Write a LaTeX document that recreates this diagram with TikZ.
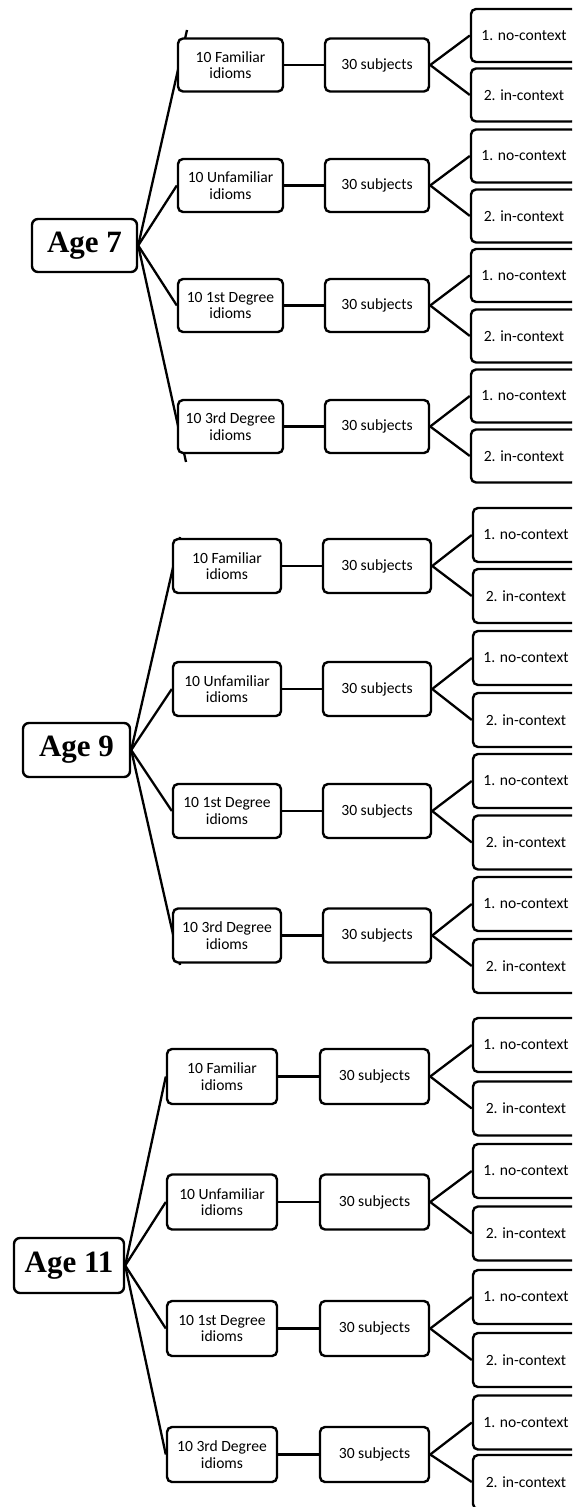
\documentclass[tikz,border=0pt]{standalone}
\usepackage{fontspec}
\setmainfont{Carlito}
\newfontfamily\agefont{Liberation Serif}
\usetikzlibrary{backgrounds}
\tikzset{
  box/.style={draw, line width=1.2pt, rounded corners=2.5pt, fill=white, inner sep=0pt,
    align=center, font=\fontsize{7.8}{8.2}\selectfont},
  agebox/.style={box, rounded corners=3pt, font=\agefont\bfseries\fontsize{15.5}{18}\selectfont},
  link/.style={line width=1.15pt},
  thinlink/.style={line width=0.6pt}
}
\newcommand\idtext[1]{\ifcase#1\or 10 Familiar\\idioms\or 10 Unfamiliar\\idioms\or 10 1st Degree\\idioms\or 10 3rd Degree\\idioms\fi}
\begin{document}
\begin{tikzpicture}[x=0.5pt,y=-0.5pt]
\useasboundingbox (0,0) rectangle (572,1507);
\clip (0,0) rectangle (572,1507);
% ---------------- Age 7
\node[agebox, minimum width=52.5pt, minimum height=26.5pt] (age7) at (84.5,245.5) {Age 7};
\coordinate (a7top) at (187,30);
\coordinate (a7bot) at (186,462);
\foreach \i/\y/\a/\b in {1/65/35.5/95, 2/185.5/156/216, 3/305.5/275.5/336, 4/426.5/396/456}{
  \node[box, minimum width=52.5pt, minimum height=26.5pt] (g7i\i) at (230.5,\y) {\idtext{\i}};
  \node[box, minimum width=52pt, minimum height=26.5pt] (g7s\i) at (377,\y) {30 subjects};
  \node[box, minimum width=53pt, minimum height=26.5pt] (g7n\i) at (524,\a) {1. no-context};
  \node[box, minimum width=53pt, minimum height=26.5pt] (g7c\i) at (524,\b) {2. in-context};
}
% ---------------- Age 9
\node[agebox, minimum width=53.5pt, minimum height=27pt] (age9) at (76.5,750) {Age 9};
\coordinate (a9top) at (180,537);
\coordinate (a9bot) at (180,965);
\foreach \i/\y/\a/\b in {1/566/535/596, 2/689/658/720, 3/811/781/842.5, 4/935.5/904/966}{
  \node[box, minimum width=54pt, minimum height=27pt] (g9i\i) at (227,\y) {\idtext{\i}};
  \node[box, minimum width=54pt, minimum height=27pt] (g9s\i) at (377,\y) {30 subjects};
  \node[box, minimum width=53pt, minimum height=27pt] (g9n\i) at (526,\a) {1. no-context};
  \node[box, minimum width=53pt, minimum height=27pt] (g9c\i) at (526,\b) {2. in-context};
}
% ---------------- Age 11
\node[agebox, minimum width=55pt, minimum height=27.5pt] (age11) at (69,1265.5) {Age 11};
\foreach \i/\y/\a/\b in {1/1076.5/1045/1108.5, 2/1202/1171/1233.5, 3/1328.5/1297/1360, 4/1454.5/1422.5/1482}{
  \node[box, minimum width=55pt, minimum height=27.5pt] (g11i\i) at (222,\y) {\idtext{\i}};
  \node[box, minimum width=54.5pt, minimum height=27.5pt] (g11s\i) at (374.5,\y) {30 subjects};
  \node[box, minimum width=53pt, minimum height=27pt] (g11n\i) at (526,\a) {1. no-context};
  \node[box, minimum width=53pt, minimum height=27pt] (g11c\i) at (526,\b) {2. in-context};
}
% ---------------- connectors
\begin{scope}[on background layer]
  \draw[link] (age7.east) -- (a7top);
  \draw[link] (age7.east) -- (g7i2.west);
  \draw[link] (age7.east) -- (g7i3.west);
  \draw[link] (age7.east) -- (a7bot);
  \draw[link] (age9.east) -- (a9top);
  \draw[link] (age9.east) -- (g9i2.west);
  \draw[link] (age9.east) -- (g9i3.west);
  \draw[link] (age9.east) -- (a9bot);
  \foreach \i in {1,2,3,4}{
    \draw[link] (age11.east) -- (g11i\i.west);
  }
  \foreach \g in {7,9,11}{
    \foreach \i in {1,2,3,4}{
      \draw[link] (g\g s\i.east) -- (g\g n\i.west);
      \draw[link] (g\g s\i.east) -- (g\g c\i.west);
    }
  }
  \foreach \g/\i in {7/1,7/2,7/3,7/4,9/1,9/2,9/4,11/1,11/2,11/3,11/4}{
    \draw[link] (g\g i\i.east) -- (g\g s\i.west);
  }
  \draw[thinlink] (g9i3.east) -- (g9s3.west);
\end{scope}
\end{tikzpicture}
\end{document}
